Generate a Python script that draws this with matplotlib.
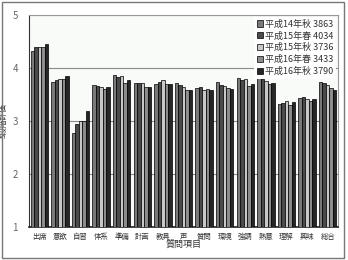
import matplotlib
matplotlib.use('Agg')
import matplotlib.pyplot as plt
import numpy as np
from matplotlib.patches import Rectangle

plt.rcParams['font.family'] = ['Noto Sans CJK JP', 'DejaVu Sans']

# question items
categories = ['出席', '意欲', '自習', '体系', '準備', '計画', '教具', '声',
              '質問', '環境', '強調', '熱意', '理解', '興味', '総合']

# survey rounds (label with number of answers)
series_labels = ['平成14年秋 3863', '平成15年春 4034', '平成15年秋 3736',
                 '平成16年春 3433', '平成16年秋 3790']

h14_aki = [4.32, 3.74, 2.78, 3.68, 3.86, 3.71, 3.70, 3.71, 3.62, 3.74, 3.81, 3.88, 3.33, 3.43, 3.74]
h15_haru = [4.40, 3.77, 2.95, 3.66, 3.83, 3.71, 3.73, 3.67, 3.64, 3.68, 3.78, 3.79, 3.34, 3.46, 3.71]
h15_aki = [4.39, 3.79, 3.00, 3.65, 3.84, 3.71, 3.77, 3.64, 3.58, 3.66, 3.80, 3.76, 3.37, 3.42, 3.68]
h16_haru = [4.39, 3.79, 3.00, 3.60, 3.72, 3.64, 3.70, 3.59, 3.61, 3.62, 3.66, 3.70, 3.30, 3.38, 3.63]
h16_aki = [4.45, 3.85, 3.18, 3.64, 3.77, 3.65, 3.70, 3.58, 3.58, 3.61, 3.70, 3.72, 3.35, 3.41, 3.58]

all_series = [h14_aki, h15_haru, h15_aki, h16_haru, h16_aki]
colors = ['#7a7a7a', '#4a4a4a', '#c8c8c8', '#8c8c8c', '#262626']

fig = plt.figure(figsize=(3.48, 2.6), dpi=100)
ax = fig.add_axes([29/348, 1 - 227/260, 309/348, 212/260])
ax.set_facecolor('#f8fbf8')

x = np.arange(len(categories))
w = 0.17
for i, (vals, c, lab) in enumerate(zip(all_series, colors, series_labels)):
    ax.bar(x + (i - 2) * w, np.array(vals) - 1, width=w, bottom=1, color=c,
           edgecolor='black', linewidth=0.5, label=lab, zorder=3)

ax.set_ylim(1, 5)
ax.set_xlim(-0.5, len(categories) - 0.5)
ax.set_yticks([1, 2, 3, 4, 5])
ax.set_xticks(x)
ax.set_xticklabels(categories, fontsize=5.3, color='#333333')
ax.tick_params(axis='y', length=0, labelsize=7, labelcolor='#666666', pad=8)
ax.tick_params(axis='x', length=0, pad=4)
ax.grid(axis='y', color='#8a8a8a', linewidth=0.8, zorder=1)

for s in ['top', 'right']:
    ax.spines[s].set_color('#999999')
    ax.spines[s].set_linewidth(0.8)
ax.spines['left'].set_color('#333333')
ax.spines['bottom'].set_color('#222222')
ax.spines['bottom'].set_linewidth(1.2)

ax.set_xlabel('質問項目', fontsize=6.5, color='#333333', labelpad=-1)
ax.set_ylabel('5段階評価', fontsize=5.5, color='#333333')
ax.yaxis.set_label_coords(-0.068, 0.5)

leg = ax.legend(loc='upper right', bbox_to_anchor=(1.0, 1.0), fontsize=6.5,
                frameon=True, facecolor='white', edgecolor='none', framealpha=1,
                handlelength=0.7, handleheight=0.7, handletextpad=0.2,
                labelspacing=0.3, borderpad=0.3, borderaxespad=0.2)
leg.get_frame().set_boxstyle('square', pad=0)
leg.set_zorder(5)
for t in leg.get_texts():
    t.set_color('#333333')

# outer frame
fig.patches.append(Rectangle((2/348, 2/260), 342/348, 256/260, transform=fig.transFigure,
                             fill=False, edgecolor='#777777', linewidth=1))

fig.savefig('out.png', dpi=100)
